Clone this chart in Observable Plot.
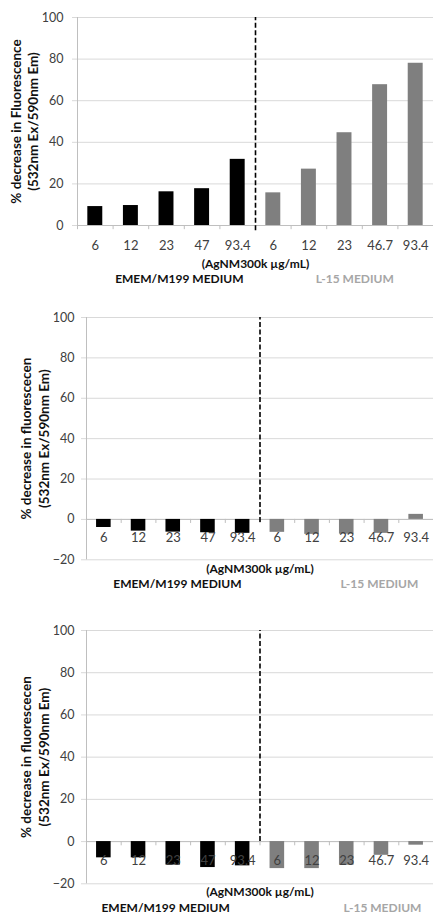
<!DOCTYPE html>
<html>
<head>
<meta charset="utf-8">
<script src="https://cdn.jsdelivr.net/npm/d3@7"></script>
<script src="https://cdn.jsdelivr.net/npm/@observablehq/plot@0.6"></script>
<style>
  html, body { margin: 0; padding: 0; background: #fff; }
  #chart { width: 433px; height: 919px; overflow: hidden; }
  #chart svg { display: block; }
</style>
</head>
<body>
<div id="chart"></div>
<script>
// ---- data ----
const categories = ["6", "12", "23", "47", "93.4", "6", "12", "23", "46.7", "93.4"];
const media = ["EMEM/M199", "EMEM/M199", "EMEM/M199", "EMEM/M199", "EMEM/M199",
               "L-15", "L-15", "L-15", "L-15", "L-15"];
const panel1Values = [9.1, 9.6, 16.2, 17.7, 31.8, 15.7, 27.1, 44.6, 67.7, 78.0];
const panel2Values = [-4.0, -5.8, -6.3, -6.6, -6.9, -6.4, -7.4, -7.3, -6.9, 2.5];
const panel3Values = [-7.7, -7.7, -11.1, -12.3, -11.5, -12.8, -12.8, -11.2, -6.5, -1.7];
const ticks1 = [0, 20, 40, 60, 80, 100];
const ticks23 = [-20, 0, 20, 40, 60, 80, 100];
const xAxisLabel = "(AgNM300k µg/mL)";
const mediumLabels = ["EMEM/M199 MEDIUM", "L-15 MEDIUM"];
const titles = [
  "% decrease in Fluorescence\n(532nm Ex/590nm Em)",
  "% decrease in fluorescecen\n(532nm Ex/590nm Em)",
  "% decrease in fluorescecen\n(532nm Ex/590nm Em)"
];

const FONT = "Lato, 'Open Sans', sans-serif";
const GRID = "#d9d9d9";
const AXIS = "#bfbfbf";

function panel(cfg) {
  const data = categories.map((c, i) => ({i, cat: c, medium: media[i], value: cfg.values[i]}));
  const half = 0.21;
  return Plot.plot({
    width: 433,
    height: cfg.height,
    marginTop: cfg.marginTop,
    marginBottom: cfg.marginBottom,
    marginLeft: cfg.marginLeft,
    marginRight: 0,
    style: {fontFamily: FONT, background: "white", overflow: "visible"},
    x: {domain: [0, categories.length], axis: null},
    y: {domain: cfg.yDomain, axis: null},
    marks: [
      Plot.gridY(cfg.ticks, {stroke: GRID, strokeOpacity: 1, insetLeft: -5}),
      Plot.axisY(cfg.ticks, {tickSize: 0, tickPadding: cfg.tickPad, fontSize: 12.5, fill: "#404040", label: null}),
      Plot.ruleX([0], {stroke: AXIS}),
      Plot.ruleY([0], {stroke: AXIS}),
      Plot.ruleX(d3.range(0, categories.length), {y1: 0, y2: cfg.tickLen, stroke: AXIS}),
      Plot.rectY(data.filter(d => d.medium !== "L-15"), {
        x1: d => d.i + 0.5 - half, x2: d => d.i + 0.5 + half, y1: 0, y2: "value", fill: "#000000"
      }),
      Plot.rectY(data.filter(d => d.medium === "L-15"), {
        x1: d => d.i + 0.5 - half, x2: d => d.i + 0.5 + half, y1: 0, y2: "value", fill: "#7f7f7f"
      }),
      Plot.text(data, {x: d => d.i + 0.5, y: 0, text: "cat", dy: cfg.tickDy, fontSize: 13, fill: "#404040"}),
      Plot.ruleX([5], {y1: cfg.dashY1, y2: 100, stroke: "#000", strokeWidth: 1.6, strokeDasharray: "5,2.5"}),
      Plot.text([cfg.title], {
        text: d => d, frameAnchor: "left", textAnchor: "middle", lineAnchor: "middle",
        rotate: -90, dx: cfg.titleDx,
        fontSize: 13.5, fontWeight: "bold", lineHeight: 1.3, fill: "#111"
      }),
      Plot.text([xAxisLabel], {
        text: d => d, x: 5, frameAnchor: "bottom", dy: cfg.labelDy,
        fontSize: 12, fontWeight: "bold", fill: "#111"
      }),
      Plot.text([mediumLabels[0]], {
        text: d => d, x: cfg.mediumX[0], frameAnchor: "bottom", dy: cfg.mediumDy,
        fontSize: 12, fontWeight: "bold", fill: "#111"
      }),
      Plot.text([mediumLabels[1]], {
        text: d => d, x: cfg.mediumX[1], frameAnchor: "bottom", dy: cfg.mediumDy,
        fontSize: 12, fontWeight: "bold", fill: "#a6a6a6"
      })
    ]
  });
}

const chart = document.getElementById("chart");
chart.append(panel({
  values: panel1Values, height: 300, marginTop: 17, marginBottom: 75, marginLeft: 77,
  yDomain: [0, 100], ticks: ticks1, tickPad: 14, tickLen: -2, tickDy: 20, dashY1: -2.5,
  title: titles[0], titleDx: -53.5, labelDy: 42, mediumDy: 57, mediumX: [2.86, 7.79]
}));
chart.append(panel({
  values: panel2Values, height: 310, marginTop: 17, marginBottom: 50.7, marginLeft: 86,
  yDomain: [-20, 100], ticks: ticks23, tickPad: 12, tickLen: -2, tickDy: 18.7, dashY1: -1.5,
  title: titles[1], titleDx: -52, labelDy: 12.7, mediumDy: 27.7, mediumX: [2.62, 8.44]
}));
chart.append(panel({
  values: panel3Values, height: 309, marginTop: 20, marginBottom: 35.7, marginLeft: 86,
  yDomain: [-20, 100], ticks: ticks23, tickPad: 12, tickLen: -2, tickDy: 19.3, dashY1: 0,
  title: titles[2], titleDx: -52, labelDy: 12.4, mediumDy: 28.4, mediumX: [2.28, 8.53]
}));
</script>
</body>
</html>
